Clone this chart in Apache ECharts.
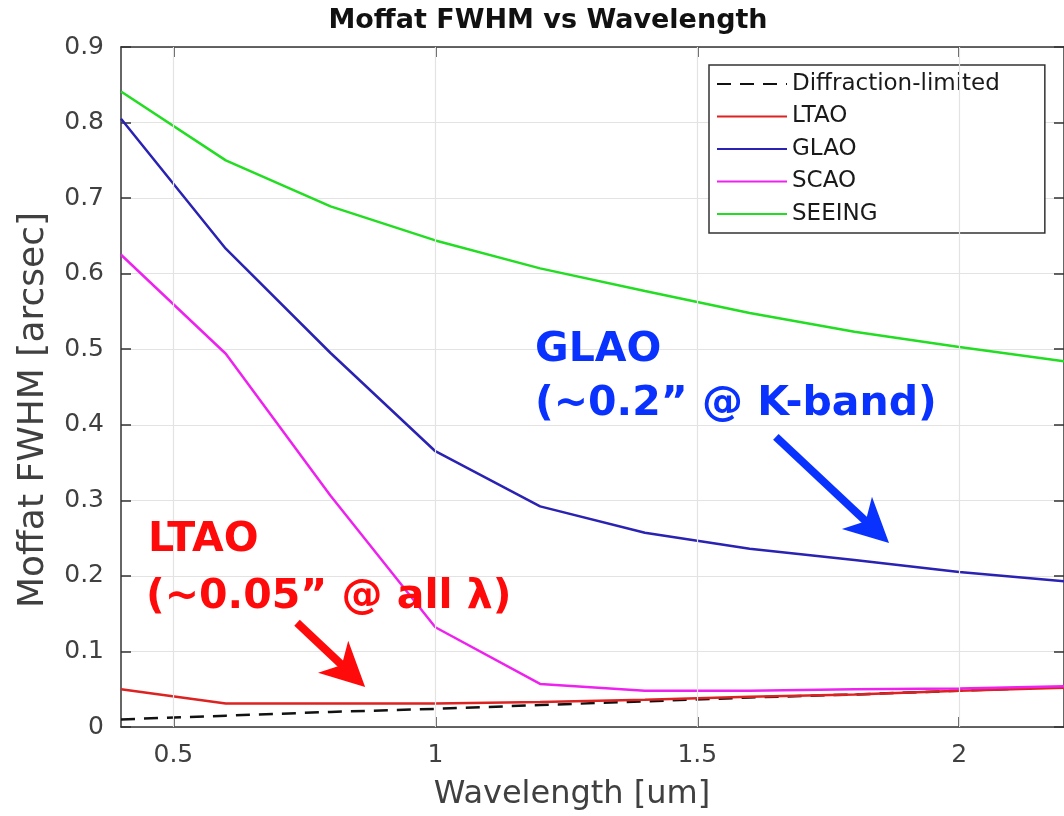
<!DOCTYPE html>
<html>
<head>
<meta charset="utf-8">
<script src="https://cdn.jsdelivr.net/npm/echarts@6/dist/echarts.min.js"></script>
<style>
  html, body { margin: 0; padding: 0; background: #fff; }
  #chart { width: 1064px; height: 816px; }
</style>
</head>
<body>
<div id="chart"></div>
<script>
// Wavelength samples [um]
const wavelength = [0.4, 0.6, 0.8, 1.0, 1.2, 1.4, 1.6, 1.8, 2.0, 2.2];

// Moffat FWHM [arcsec] per mode
const diffraction = [0.010, 0.015, 0.020, 0.024, 0.029, 0.034, 0.039, 0.043, 0.048, 0.053];
const ltao        = [0.050, 0.031, 0.031, 0.031, 0.033, 0.036, 0.040, 0.043, 0.048, 0.052];
const glao        = [0.805, 0.633, 0.495, 0.365, 0.292, 0.257, 0.236, 0.221, 0.205, 0.193];
const scao        = [0.625, 0.494, 0.306, 0.132, 0.057, 0.048, 0.048, 0.050, 0.051, 0.054];
const seeing      = [0.841, 0.750, 0.689, 0.644, 0.607, 0.577, 0.548, 0.523, 0.503, 0.484];

const seriesNames = ['Diffraction-limited', 'LTAO', 'GLAO', 'SCAO', 'SEEING'];
const seriesColors = ['#111111', '#dd2222', '#2a22b2', '#ee22ee', '#22dd22'];

// Axis ticks
const xTicks = [0.5, 1, 1.5, 2];
const yTicks = [0, 0.1, 0.2, 0.3, 0.4, 0.5, 0.6, 0.7, 0.8, 0.9];

// Callout arrows: [x start, y start, x tip, y tip] in data units
const glaoArrow = [1.650, 0.384, 1.866, 0.2435];
const ltaoArrow = [0.736, 0.138, 0.866, 0.053];

const pairs = (ys) => wavelength.map((x, i) => [x, ys[i]]);

const tickFont = 'DejaVu Sans';
const axisColor = '#333333';
const labelColor = '#404040';

function lineSeries(name, ys, color, dashed) {
  return {
    name: name,
    type: 'line',
    data: pairs(ys),
    showSymbol: false,
    symbol: 'none',
    lineStyle: { color: color, width: 2.5, type: dashed ? [14, 9] : 'solid' },
    itemStyle: { color: color },
    animation: false
  };
}

function arrowSeries(values, color) {
  return {
    type: 'custom',
    silent: true,
    animation: false,
    itemStyle: { color: color },
    dimensions: ['x0', 'y0', 'x1', 'y1'],
    encode: { x: [0, 2], y: [1, 3] },
    data: [values],
    z: 5,
    renderItem: function (params, api) {
      const p0 = api.coord([api.value(0), api.value(1)]);
      const p1 = api.coord([api.value(2), api.value(3)]);
      const dx = p1[0] - p0[0], dy = p1[1] - p0[1];
      const len = Math.hypot(dx, dy);
      const ux = dx / len, uy = dy / len, nx = -uy, ny = ux;
      const headLen = 44, halfW = 22, notch = 12;
      const bx = p1[0] - ux * headLen, by = p1[1] - uy * headLen;
      const kx = p1[0] - ux * (headLen - notch), ky = p1[1] - uy * (headLen - notch);
      const c = api.visual('color');
      return {
        type: 'group',
        children: [
          { type: 'line', shape: { x1: p0[0], y1: p0[1], x2: kx + ux * 4, y2: ky + uy * 4 },
            style: { stroke: c, lineWidth: 8 } },
          { type: 'polygon',
            shape: { points: [[p1[0], p1[1]], [bx + nx * halfW, by + ny * halfW], [kx, ky], [bx - nx * halfW, by - ny * halfW]] },
            style: { fill: c } }
        ]
      };
    }
  };
}

const chart = echarts.init(document.getElementById('chart'), null, { renderer: 'canvas' });

const annFont = 'bold 41px "DejaVu Sans"';
const blue = '#0a32ff';
const red = '#ff0a0a';

chart.setOption({
  backgroundColor: '#ffffff',
  animation: false,
  grid: { left: 121, top: 47, width: 944, height: 680, containLabel: false },
  xAxis: [
    {
      type: 'value', min: 0.4, max: 2.2, position: 'bottom',
      axisLine: { show: true, onZero: false, lineStyle: { color: axisColor, width: 1.5 } },
      axisTick: { show: true, inside: true, length: 10, customValues: xTicks, lineStyle: { color: axisColor, width: 1.5 } },
      axisLabel: { customValues: xTicks, margin: 16, fontFamily: tickFont, fontSize: 25, color: labelColor },
      splitLine: { show: false }
    },
    {
      type: 'value', min: 0.4, max: 2.2, position: 'top',
      axisLine: { show: true, onZero: false, lineStyle: { color: axisColor, width: 1.5 } },
      axisTick: { show: true, inside: true, length: 10, customValues: xTicks, lineStyle: { color: axisColor, width: 1.5 } },
      axisLabel: { show: false },
      splitLine: { show: false }
    }
  ],
  yAxis: [
    {
      type: 'value', min: 0, max: 0.9, interval: 0.1, position: 'left',
      axisLine: { show: true, onZero: false, lineStyle: { color: axisColor, width: 1.5 } },
      axisTick: { show: true, inside: true, length: 10, lineStyle: { color: axisColor, width: 1.5 } },
      axisLabel: { margin: 17, fontFamily: tickFont, fontSize: 25, color: labelColor },
      splitLine: { show: true, lineStyle: { color: '#e3e3e3', width: 1.2 } }
    },
    {
      type: 'value', min: 0, max: 0.9, interval: 0.1, position: 'right',
      axisLine: { show: true, onZero: false, lineStyle: { color: axisColor, width: 1.5 } },
      axisTick: { show: true, inside: true, length: 10, lineStyle: { color: axisColor, width: 1.5 } },
      axisLabel: { show: false },
      splitLine: { show: false }
    }
  ],
  legend: {
    data: seriesNames,
    orient: 'vertical',
    left: 709, top: 65,
    padding: [7, 45, 7, 7],
    itemWidth: 70, itemHeight: 14, itemGap: 8.5,
    itemStyle: { opacity: 0 },
    backgroundColor: '#ffffff',
    borderColor: '#333333', borderWidth: 1.5, borderRadius: 0,
    textStyle: { fontFamily: tickFont, fontSize: 23, color: '#1a1a1a', lineHeight: 24 },
    selectedMode: false
  },
  graphic: [
    { type: 'text', x: 548, y: 21, z: 10,
      style: { text: 'Moffat FWHM vs Wavelength', font: 'bold 27px "DejaVu Sans"', fill: '#111', align: 'center', verticalAlign: 'middle' } },
    { type: 'text', x: 572, y: 795, z: 10,
      style: { text: 'Wavelength [um]', font: '32px "DejaVu Sans"', fill: labelColor, align: 'center', verticalAlign: 'middle' } },
    { type: 'text', x: 34, y: 410, rotation: Math.PI / 2, z: 10,
      style: { text: 'Moffat FWHM [arcsec]', font: '36px "DejaVu Sans"', fill: labelColor, align: 'center', verticalAlign: 'middle' } },
    { type: 'text', x: 535, y: 350, z: 10,
      style: { text: 'GLAO', font: annFont, fill: blue, align: 'left', verticalAlign: 'middle' } },
    { type: 'text', x: 535, y: 404, z: 10,
      style: { text: '(~0.2\u201D @ K-band)', font: annFont, fill: blue, align: 'left', verticalAlign: 'middle' } },
    { type: 'text', x: 148, y: 540, z: 10,
      style: { text: 'LTAO', font: annFont, fill: red, align: 'left', verticalAlign: 'middle' } },
    { type: 'text', x: 146, y: 597, z: 10,
      style: { text: '(~0.05\u201D @ all \u03BB)', font: annFont, fill: red, align: 'left', verticalAlign: 'middle' } }
  ],
  series: [
    {
      // vertical grid lines at the labelled wavelengths
      type: 'line', data: [], silent: true, animation: false,
      markLine: {
        silent: true, symbol: 'none', label: { show: false },
        lineStyle: { color: '#e3e3e3', width: 1.2, type: 'solid' },
        data: xTicks.map(v => ({ xAxis: v }))
      }
    },
    lineSeries(seriesNames[0], diffraction, seriesColors[0], true),
    lineSeries(seriesNames[1], ltao, seriesColors[1], false),
    lineSeries(seriesNames[2], glao, seriesColors[2], false),
    lineSeries(seriesNames[3], scao, seriesColors[3], false),
    lineSeries(seriesNames[4], seeing, seriesColors[4], false),
    arrowSeries(glaoArrow, blue),
    arrowSeries(ltaoArrow, red)
  ]
});
</script>
</body>
</html>
